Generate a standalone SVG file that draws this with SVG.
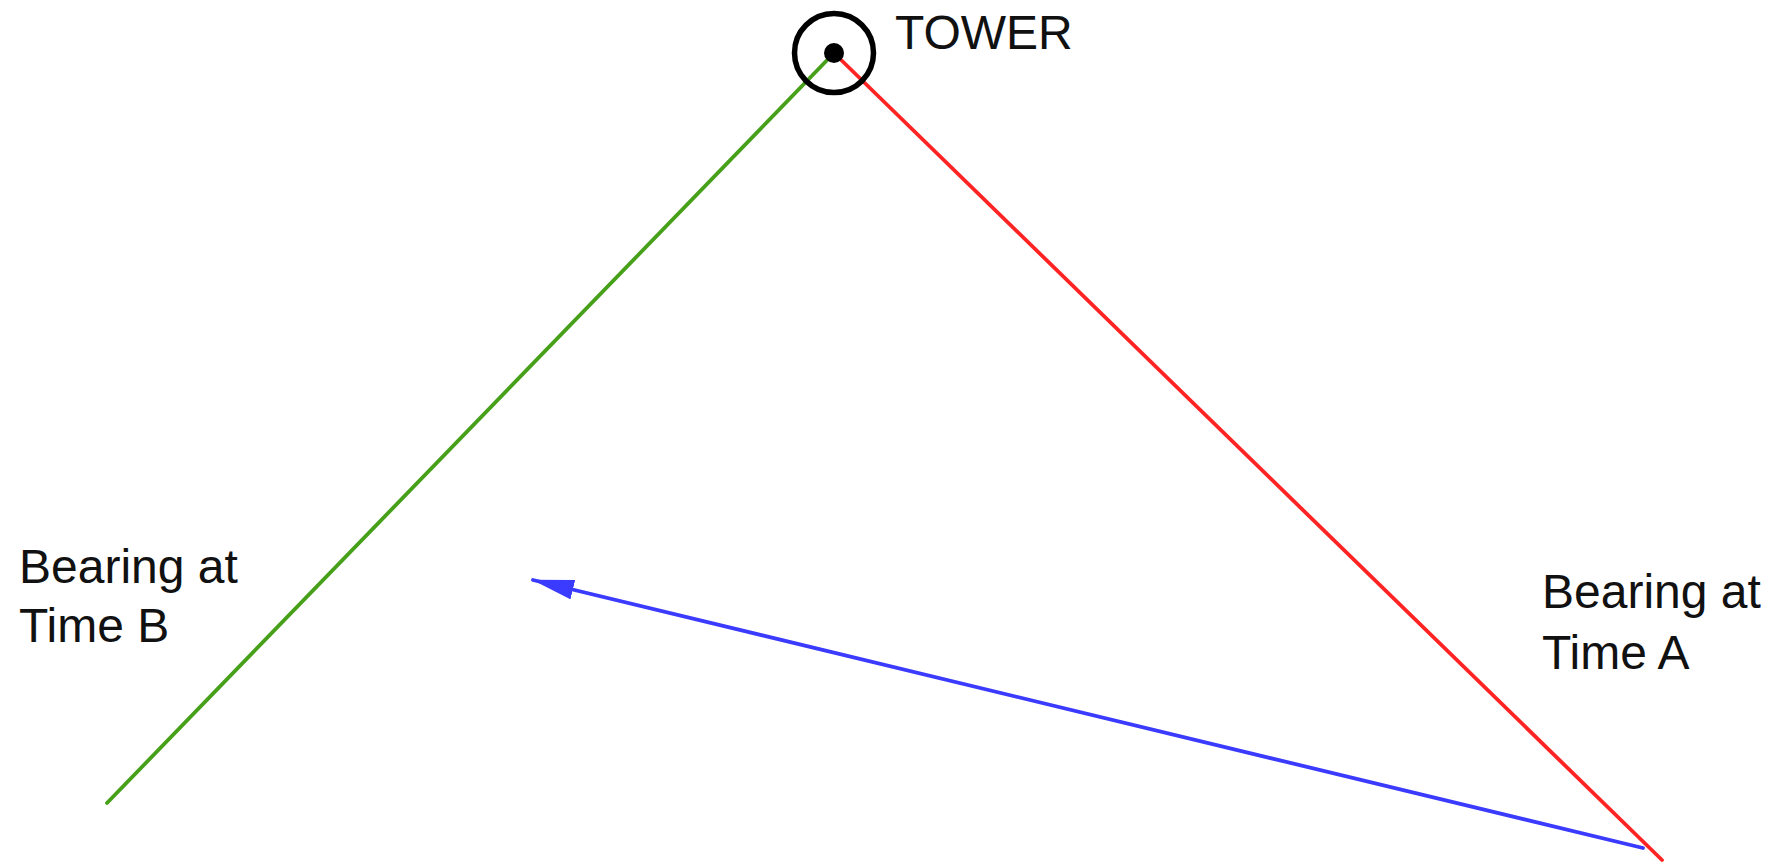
<svg xmlns="http://www.w3.org/2000/svg" width="1777" height="866" viewBox="0 0 1777 866">
<defs>
<style>
.lbl{font-family:"Liberation Sans",Arial,Helvetica,sans-serif;font-size:48px;fill:#111}
.ln{fill:none;stroke-width:3.8;stroke-linecap:round}
</style>
<marker id="ah" markerUnits="userSpaceOnUse" markerWidth="48" markerHeight="26" refX="41" refY="10" orient="auto">
<path d="M0,0 L42,10 L0,20 Z" fill="#3b3bff"/>
</marker>
</defs>
<rect width="1777" height="866" fill="#fff"/>
<g id="connectors">
<line class="ln" x1="834" y1="53" x2="107" y2="803" stroke="#47a01a"/>
<line class="ln" x1="834" y1="53" x2="1662" y2="860" stroke="#ff2424"/>
<line class="ln" x1="1643" y1="848" x2="533" y2="580" stroke="#3b3bff" marker-end="url(#ah)"/>
</g>
<g id="tower">
<circle cx="834" cy="53" r="39.5" fill="none" stroke="#000" stroke-width="5.5"/>
<circle cx="834" cy="53" r="10" fill="#000"/>
<text class="lbl" x="895" y="49" style="font-size:48px">TOWER</text>
</g>
<g id="bearing-b">
<text class="lbl" x="19" y="583">Bearing at</text>
<text class="lbl" x="19" y="642">Time B</text>
</g>
<g id="bearing-a">
<text class="lbl" x="1542" y="608">Bearing at</text>
<text class="lbl" x="1542" y="669">Time A</text>
</g>
</svg>
